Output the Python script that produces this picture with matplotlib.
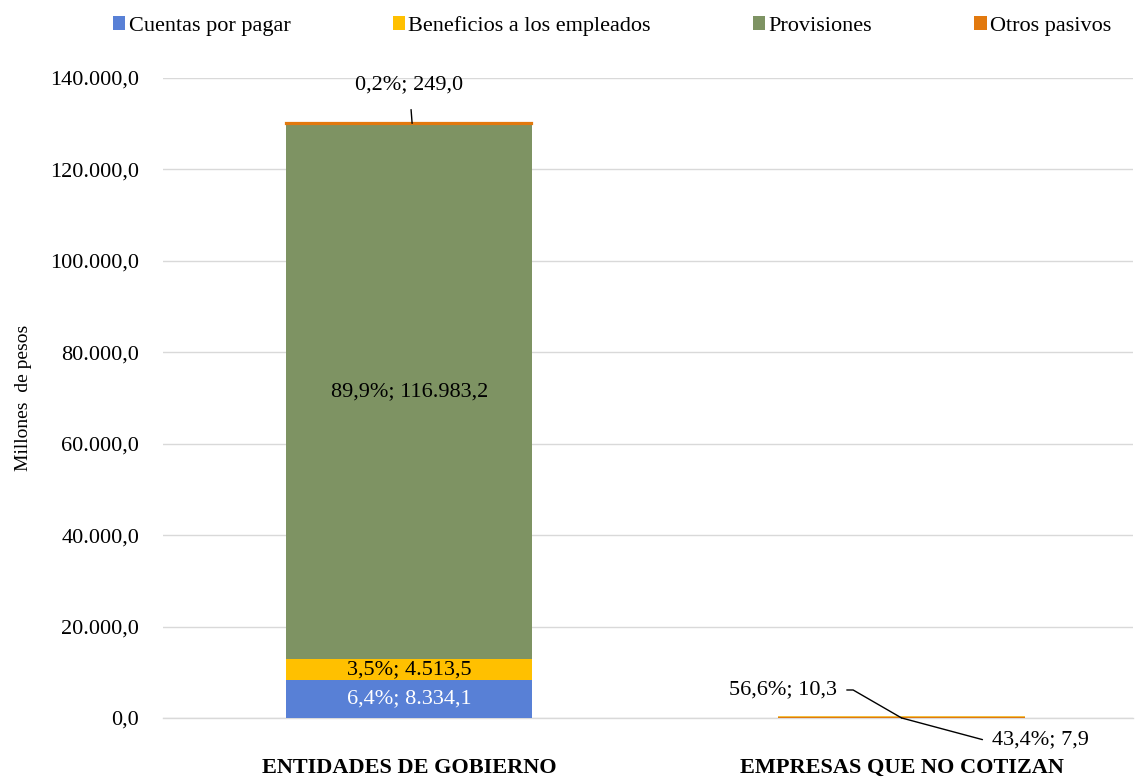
import matplotlib
matplotlib.use("Agg")
import matplotlib.pyplot as plt
import numpy as np

# --------------------------------------------------------------------------- #
#  DATA
# --------------------------------------------------------------------------- #
categories = ["ENTIDADES DE GOBIERNO", "EMPRESAS QUE NO COTIZAN"]
series_names = ["Cuentas por pagar", "Beneficios a los empleados", "Provisiones", "Otros pasivos"]
cuentas = [8334.1, 10.3]
beneficios = [4513.5, 7.9]
provisiones = [116983.2, 0.0]
otros = [249.0, 0.0]
pct_labels = {
    (0, 0): "6,4%; 8.334,1",
    (0, 1): "3,5%; 4.513,5",
    (0, 2): "89,9%; 116.983,2",
    (0, 3): "0,2%; 249,0",
    (1, 0): "56,6%; 10,3",
    (1, 1): "43,4%; 7,9",
}
yticks = np.arange(0, 140001, 20000)

# --------------------------------------------------------------------------- #
#  STYLE
# --------------------------------------------------------------------------- #
COLORS = ["#5880D6", "#FFC000", "#7E9363", "#E2790E"]
GRID = "#D9D9D9"
FS = 16
plt.rcParams["font.family"] = ["Liberation Serif", "DejaVu Serif"]

fig = plt.figure(figsize=(11.38, 7.8), dpi=100)
ax = fig.add_axes([0.1432, 0.0795, 0.8524, 0.8205])

x = np.arange(len(categories))
data = [cuentas, beneficios, provisiones, otros]
bottom = np.zeros(len(categories))
for i, (vals, name, col) in enumerate(zip(data, series_names, COLORS)):
    edge = dict(edgecolor=col, linewidth=1.6) if i == 3 else {}
    ax.bar(x, vals, width=0.5, bottom=bottom, color=col, label=name, zorder=3, **edge)
    bottom += np.array(vals)

ax.set_xlim(-0.5, 1.47)
ax.set_ylim(0, 140000)
ax.set_yticks(yticks)
ax.set_yticklabels([f"{v:,.1f}".replace(",", "X").replace(".", ",").replace("X", ".")
                    for v in yticks], fontsize=FS)
ax.yaxis.grid(True, color=GRID, lw=1.0, zorder=0)
ax.set_axisbelow(True)
for sp in ("top", "right", "left"):
    ax.spines[sp].set_visible(False)
ax.spines["bottom"].set_color(GRID)
ax.spines["bottom"].set_linewidth(1.0)
ax.tick_params(axis="y", length=0, pad=17)
ax.tick_params(axis="x", length=0, pad=29)
ax.set_xticks(x)
ax.set_xticklabels(categories, fontsize=FS, fontweight="bold")
ax.set_ylabel("Millones  de pesos", fontsize=14)
ax.yaxis.set_label_coords(-0.135, 0.5)

# ---- labels inside the first bar ------------------------------------------ #
b = 0.0
mids = []
for vals in data:
    mids.append(b + vals[0] / 2)
    b += vals[0]
ax.text(0, mids[0], pct_labels[(0, 0)], ha="center", va="center", color="white", fontsize=FS, zorder=5)
ax.text(0, mids[1], pct_labels[(0, 1)], ha="center", va="center", color="black", fontsize=FS, zorder=5)
ax.text(0, 71300, pct_labels[(0, 2)], ha="center", va="center", color="black", fontsize=FS, zorder=5)

# "Otros pasivos" with leader line
top0 = b
ax.annotate(pct_labels[(0, 3)], xy=(0.006, top0), xytext=(0.0, 138500),
            ha="center", va="center", fontsize=FS, zorder=5,
            arrowprops=dict(arrowstyle="-", color="black", lw=1.0,
                            shrinkA=9, shrinkB=0))

# ---- labels for the second bar (leader lines) ------------------------------ #
top1 = cuentas[1] + beneficios[1]
ax.annotate(pct_labels[(1, 0)], xy=(1.0, top1 / 2), xytext=(0.869, 6125),
            ha="right", va="center", fontsize=FS, zorder=5,
            arrowprops=dict(arrowstyle="-", color="black", lw=1.0, shrinkA=5, shrinkB=0,
                            connectionstyle="angle,angleA=0,angleB=150,rad=0"))
ax.annotate(pct_labels[(1, 1)], xy=(1.0, top1 / 2), xytext=(1.184, -4800),
            ha="left", va="center", fontsize=FS, zorder=5, annotation_clip=False,
            arrowprops=dict(arrowstyle="-", color="black", lw=1.0, shrinkA=5, shrinkB=0,
                            connectionstyle="angle,angleA=0,angleB=-15,rad=0"))
# thin visible sliver for the near-zero bar
ax.bar(1, 450, width=0.5, color="#F2C94A", zorder=2)

# ---- legend ---------------------------------------------------------------- #
handles, labels = ax.get_legend_handles_labels()
leg = fig.legend(handles, labels, loc="upper center", bbox_to_anchor=(0.538, 1.005), ncol=4,
                 frameon=False, fontsize=FS, handlelength=0.55, handleheight=0.55,
                 handletextpad=0.15, columnspacing=4.6)
for h in leg.legend_handles:
    h.set_linewidth(0)

fig.savefig("out.png", dpi=100, facecolor="white")
